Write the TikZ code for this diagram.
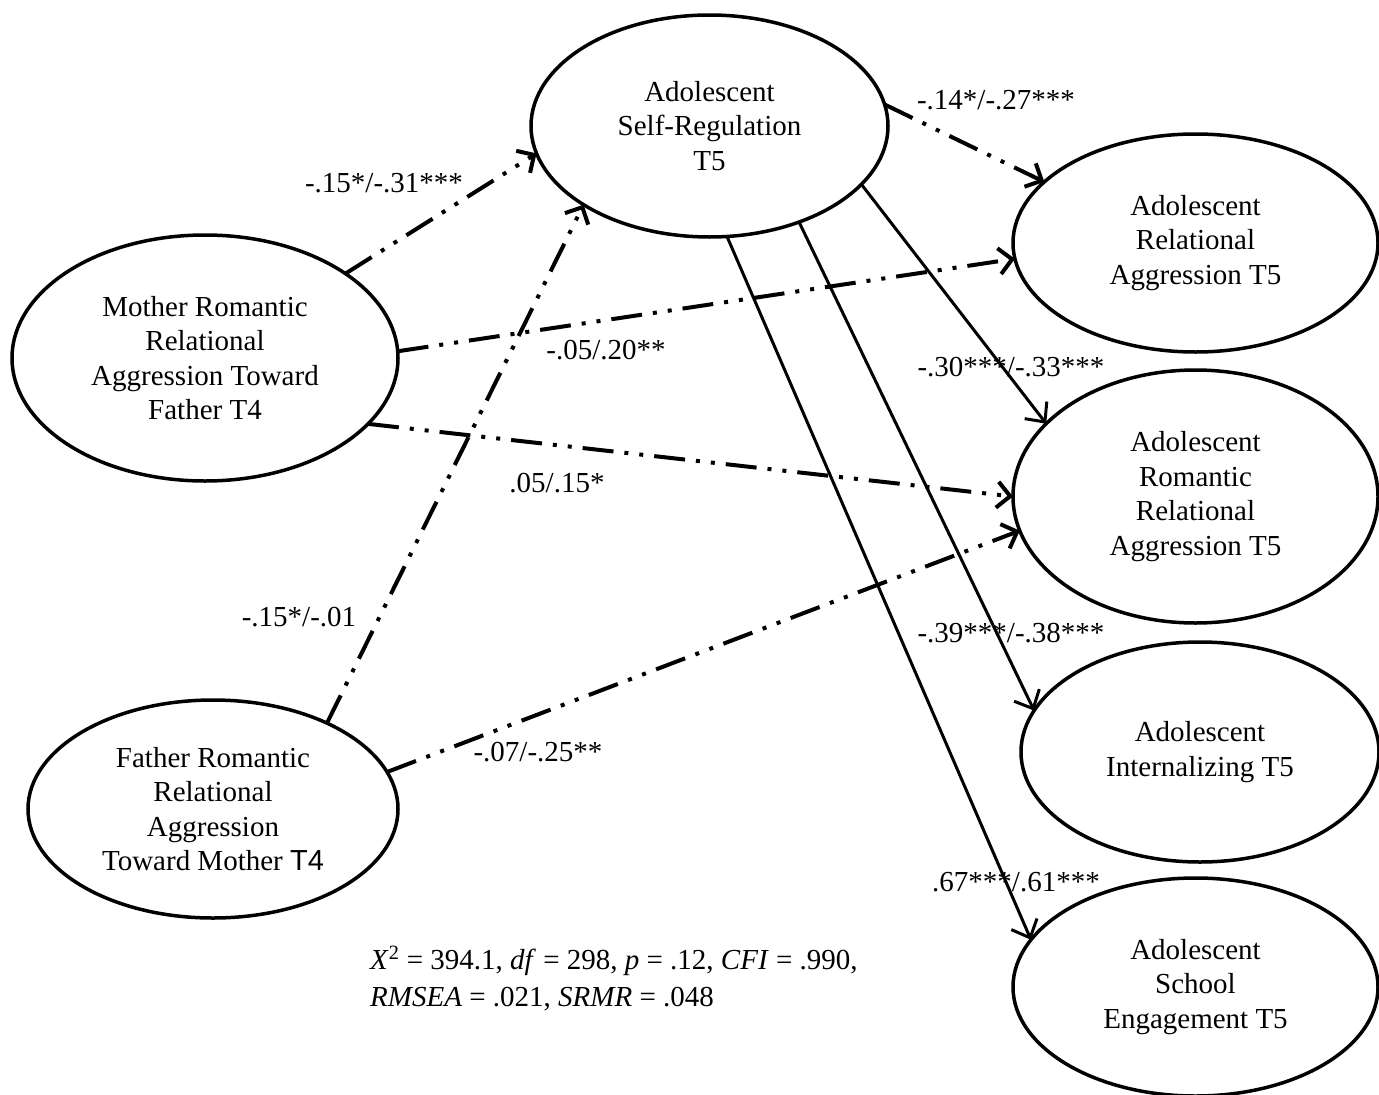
\documentclass[tikz,border=0pt]{standalone}
\usepackage{fontspec}
\setmainfont{Liberation Serif}
\newfontfamily\arialfont{Liberation Sans}
\usetikzlibrary{arrows.meta,shapes.geometric}
\begin{document}
\begin{tikzpicture}[x=1pt,y=-1pt,
  lat/.style={ellipse, draw, line width=3.5pt, inner sep=0pt, outer sep=0pt, align=center,
              font=\fontsize{29}{34.5}\selectfont},
  ddot/.style={line width=4pt, dash pattern=on 31pt off 11pt on 4pt off 11pt on 4pt off 11pt,
              -{Straight Barb[length=13pt,width=26pt]}},
  sol/.style={line width=3pt, -{Straight Barb[length=15pt,width=28pt]}},
  lbl/.style={font=\fontsize{29}{34.5}\selectfont, inner sep=0pt}
]
\useasboundingbox (0,0) rectangle (1379,1095);

% latent variables
\node[lat, minimum width=357pt, minimum height=222pt] (sr) at (709.5,126) {Adolescent\\Self-Regulation\\T5};
\node[lat, minimum width=386pt, minimum height=246pt] (mo) at (205,358) {Mother Romantic\\Relational\\Aggression Toward\\Father T4};
\node[lat, minimum width=370pt, minimum height=218pt] (fa) at (213,809) {Father Romantic\\Relational\\Aggression\\Toward Mother {\arialfont T4}};
\node[lat, minimum width=365pt, minimum height=218pt] (ra) at (1195.5,243) {Adolescent\\Relational\\Aggression T5};
\node[lat, minimum width=365pt, minimum height=253pt] (rr) at (1195.5,496.5) {Adolescent\\Romantic\\Relational\\Aggression T5};
\node[lat, minimum width=358pt, minimum height=220pt] (in) at (1200,752) {Adolescent\\Internalizing T5};
\node[lat, minimum width=365pt, minimum height=218pt] (se) at (1195.5,987) {Adolescent\\School\\Engagement T5};

% paths
\draw[ddot] (mo.31.6) -- (sr.189);
\draw[ddot] (mo.2) -- (ra.185.4);
\draw[ddot] (mo.-22) -- (rr.180);
\draw[ddot] (fa.37.3) -- (sr.212.6);
\draw[ddot] (fa.12) -- (rr.191.6);
\draw[ddot] (sr.7.7) -- (ra.158.8);
\draw[sol] (sr.-21.2) -- (rr.154.4);
\draw[sol] (sr.-47.7) -- (in.166.5);
\draw[sol] (sr.-81) -- (se.164.6);

% coefficients
\node[lbl] (l1) at (384,183) {-.15*/-.31***};
\node[lbl] (l2) at (996,100) {-.14*/-.27***};
\node[lbl] (l3) at (606,350) {-.05/.20**};
\node[lbl] (l4) at (557,483) {.05/.15*};
\node[lbl] (l5) at (1011,367) {-.30***/-.33***};
\node[lbl] (l6) at (299,617) {-.15*/-.01};
\node[lbl] (l7) at (1011,633) {-.39***/-.38***};
\node[lbl] (l8) at (538,752) {-.07/-.25**};
\node[lbl] (l9) at (1016,882) {.67***/.61***};

% fit statistics
\node[lbl, anchor=base west] (fit1) at (370,969) {\textit{X}\textsuperscript{2} = 394.1, \textit{df} = 298, \textit{p} = .12, \textit{CFI} = .990,};
\node[lbl, anchor=base west] (fit2) at (370,1006) {\textit{RMSEA} = .021, \textit{SRMR} = .048};
\end{tikzpicture}
\end{document}
